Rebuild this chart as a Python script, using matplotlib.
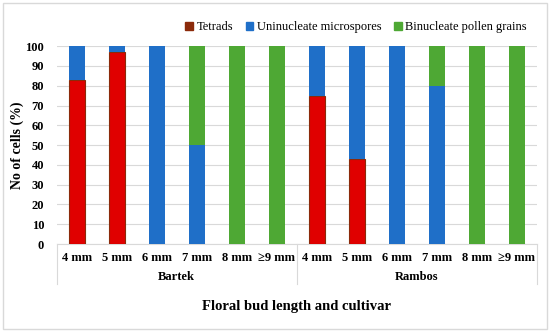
import matplotlib.pyplot as plt
import numpy as np
from matplotlib.patches import Rectangle, Patch

plt.rc('font', family='Liberation Serif')

sizes = ['4 mm', '5 mm', '6 mm', '7 mm', '8 mm', '\u22659 mm']
cultivars = ['Bartek', 'Rambos']
tetrads = [83, 97, 0, 0, 0, 0, 75, 43, 0, 0, 0, 0]
uninucleate = [17, 3, 100, 50, 0, 0, 25, 57, 100, 80, 0, 0]
binucleate = [0, 0, 0, 50, 100, 100, 0, 0, 0, 20, 100, 100]
colors = ['#e00000', '#1f6fc8', '#4ea834']
names = ['Tetrads', 'Uninucleate microspores', 'Binucleate pollen grains']

fig = plt.figure(figsize=(5.5, 3.32), dpi=100)
ax = fig.add_axes([0.103, 0.265, 0.873, 0.596])

x = np.arange(len(tetrads))
t = np.array(tetrads)
u = np.array(uninucleate)
b = np.array(binucleate)
w = 0.4
ax.bar(x, t, w, color=colors[0], edgecolor='#8b2a0a', linewidth=0.8, zorder=3)
ax.bar(x, u, w, bottom=t, color=colors[1], zorder=3)
ax.bar(x, b, w, bottom=t + u, color=colors[2], zorder=3)

ax.set_xlim(-0.5, len(tetrads) - 0.5)
ax.set_ylim(0, 100)
ax.set_yticks(range(0, 101, 10))
ax.yaxis.grid(True, color='#d9d9d9', linewidth=0.8, zorder=0)
ax.set_xticks(x)
ax.set_xticklabels(sizes * 2)
ax.tick_params(axis='x', length=0, labelsize=9, pad=6)
ax.tick_params(axis='y', length=0, labelsize=9, pad=9)
for lab in ax.get_xticklabels() + ax.get_yticklabels():
    lab.set_fontweight('bold')
for s in ['top', 'right', 'left']:
    ax.spines[s].set_visible(False)
ax.spines['bottom'].set_color('#d9d9d9')

# cultivar group labels and separators
for i, c in enumerate(cultivars):
    ax.text(0.25 + 0.5 * i, -0.165, c, transform=ax.transAxes, ha='center', va='center',
            fontsize=9, fontweight='bold')
for xs in [0.0, 0.5, 1.0]:
    ax.plot([xs, xs], [0, -0.2], transform=ax.transAxes, color='#d9d9d9', linewidth=0.8, clip_on=False)

ax.set_ylabel('No of cells (%)', fontsize=10, fontweight='bold', labelpad=1)
fig.text(0.54, 0.078, 'Floral bud length and cultivar', ha='center', va='center',
         fontsize=10.5, fontweight='bold')

handles = [Patch(color='#8b2a0a'), Patch(color=colors[1]), Patch(color=colors[2])]
ax.legend(handles, names, loc='lower right', bbox_to_anchor=(0.99, 1.04), ncol=3, frameon=False,
          fontsize=9, handlelength=0.6, handleheight=0.6, columnspacing=1.0, handletextpad=0.3,
          borderaxespad=0)

fig.patches.append(Rectangle((0.005, 0.01), 0.99, 0.98, transform=fig.transFigure,
                             fill=False, edgecolor='#d9d9d9', linewidth=1))

fig.savefig('out.png', dpi=100)
